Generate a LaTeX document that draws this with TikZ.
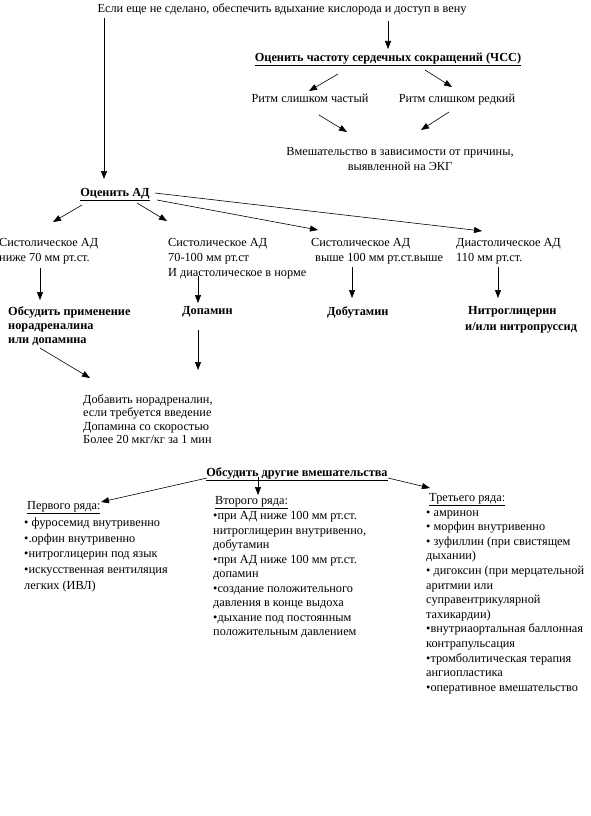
\documentclass[tikz,border=0pt]{standalone}
\usepackage{fontspec}
\setmainfont{Liberation Serif}
\usetikzlibrary{arrows.meta}
\tikzset{
  txt/.style={inner sep=0pt, font=\fontsize{12.3}{15}\selectfont, align=left},
  bld/.style={txt, font=\fontsize{12.3}{15}\selectfont\bfseries},
  arr/.style={-{Triangle[length=8pt,width=6pt]}, line width=0.6pt},
}
\begin{document}
\begin{tikzpicture}[x=1pt,y=-1pt]
\useasboundingbox[fill=white] (0,0) rectangle (590,816);

% top part
\node[txt, anchor=base] (top) at (282,12.5) {Если еще не сделано, обеспечить вдыхание кислорода и доступ в вену};
\node[bld, anchor=base] (hr) at (388,61) {\underline{Оценить частоту сердечных сокращений (ЧСС)}};
\node[txt, anchor=base] (fast) at (310,102) {Ритм слишком частый};
\node[txt, anchor=base] (slow) at (457,102) {Ритм слишком редкий};
\node[txt, align=center, anchor=north] (ecg) at (400,147) {Вмешательство в зависимости от причины,\\выявленной на ЭКГ};
\node[bld, anchor=base] (bp) at (115,196) {\underline{Оценить АД}};

% blood pressure branches
\node[txt, anchor=north west] (s1) at (-1,238) {Систолическое АД\\ниже 70 мм рт.ст.};
\node[txt, anchor=north west] (s2) at (168,238) {Систолическое АД\\70-100 мм рт.ст\\И диастолическое в норме};
\node[txt, anchor=north west] (s3) at (311,238) {Систолическое АД\\\hspace*{4pt}выше 100 мм рт.ст.выше};
\node[txt, anchor=north west] (d1) at (456,238) {Диастолическое АД\\110 мм рт.ст.};

\node[bld, anchor=north west, font=\fontsize{12.3}{14}\selectfont\bfseries] (nor) at (8,306) {Обсудить применение\\норадреналина\\или допамина};
\node[bld, anchor=north west] (dop) at (182,306) {Допамин};
\node[bld, anchor=north west] (dob) at (327,306) {Добутамин};
\node[bld, anchor=north west, font=\fontsize{12.3}{16}\selectfont\bfseries] (ntg) at (468,306) {Нитроглицерин\\\hspace*{-3pt}и/или нитропруссид};

\node[txt, anchor=north west, font=\fontsize{12.3}{13.3}\selectfont] (add) at (83,394.5) {Добавить норадреналин,\\если требуется введение\\Допамина со скоростью\\Более 20 мкг/кг за 1 мин};

% other interventions
\node[bld, anchor=base] (other) at (297,476.5) {\underline{Обсудить другие вмешательства}};
\node[txt, anchor=base west] (r1) at (27,509) {\underline{Первого ряда:}};
\node[txt, anchor=north west, font=\fontsize{12.3}{15.8}\selectfont] (l1) at (24,517.5) {• фуросемид внутривенно\\•.орфин внутривенно\\•нитроглицерин под язык\\•искусственная вентиляция\\легких (ИВЛ)};
\node[txt, anchor=base west] (r2) at (215,504) {\underline{Второго ряда:}};
\node[txt, anchor=north west, font=\fontsize{12.3}{14.5}\selectfont] (l2) at (213,511.5) {•при АД ниже 100 мм рт.ст.\\нитроглицерин внутривенно,\\добутамин\\•при АД ниже 100 мм рт.ст.\\допамин\\•создание положительного\\давления в конце выдоха\\•дыхание под постоянным\\положительным давлением};
\node[txt, anchor=base west] (r3) at (429,501) {\underline{Третьего ряда:}};
\node[txt, anchor=north west, font=\fontsize{12.3}{14.6}\selectfont] (l3) at (426,510) {• амринон\\• морфин внутривенно\\• зуфиллин (при свистящем\\дыхании)\\• дигоксин (при мерцательной\\аритмии или\\суправентрикулярной\\тахикардии)\\•внутриаортальная баллонная\\контрапульсация\\•тромболитическая терапия\\ангиопластика\\•оперативное вмешательство};

% connector end points
\coordinate (a1s) at (104,18);  \coordinate (a1e) at (104,179);
\coordinate (a2s) at (388,21);  \coordinate (a2e) at (388,49);
\coordinate (a3s) at (338,74);  \coordinate (a3e) at (309,91);
\coordinate (a4s) at (425,70);  \coordinate (a4e) at (452,87);
\coordinate (a5s) at (319,115); \coordinate (a5e) at (347,132);
\coordinate (a6s) at (449,112); \coordinate (a6e) at (421,130);
\coordinate (b1s) at (82,205);  \coordinate (b1e) at (53,222);
\coordinate (b2s) at (137,203); \coordinate (b2e) at (167,221);
\coordinate (b3s) at (157,200); \coordinate (b3e) at (318,230);
\coordinate (b4s) at (155,193); \coordinate (b4e) at (482,231);
\coordinate (c1s) at (40,268);  \coordinate (c1e) at (40,300);
\coordinate (c2s) at (198,276); \coordinate (c2e) at (198,303);
\coordinate (c3s) at (352,267); \coordinate (c3e) at (352,298);
\coordinate (c4s) at (498,267); \coordinate (c4e) at (498,298);
\coordinate (d2s) at (198,330); \coordinate (d2e) at (198,370);
\coordinate (d1s) at (40,348);  \coordinate (d1e) at (90,378);
\coordinate (e1s) at (207,478); \coordinate (e1e) at (101,502);
\coordinate (e2s) at (258,477); \coordinate (e2e) at (258,495);
\coordinate (e3s) at (388,478); \coordinate (e3e) at (430,488);

\foreach \p in {a1,a2,a3,a4,a5,a6,b1,b2,b3,b4,c1,c2,c3,c4,d1,d2,e1,e2,e3}
  \draw[arr] (\p s) -- (\p e);
\end{tikzpicture}
\end{document}
